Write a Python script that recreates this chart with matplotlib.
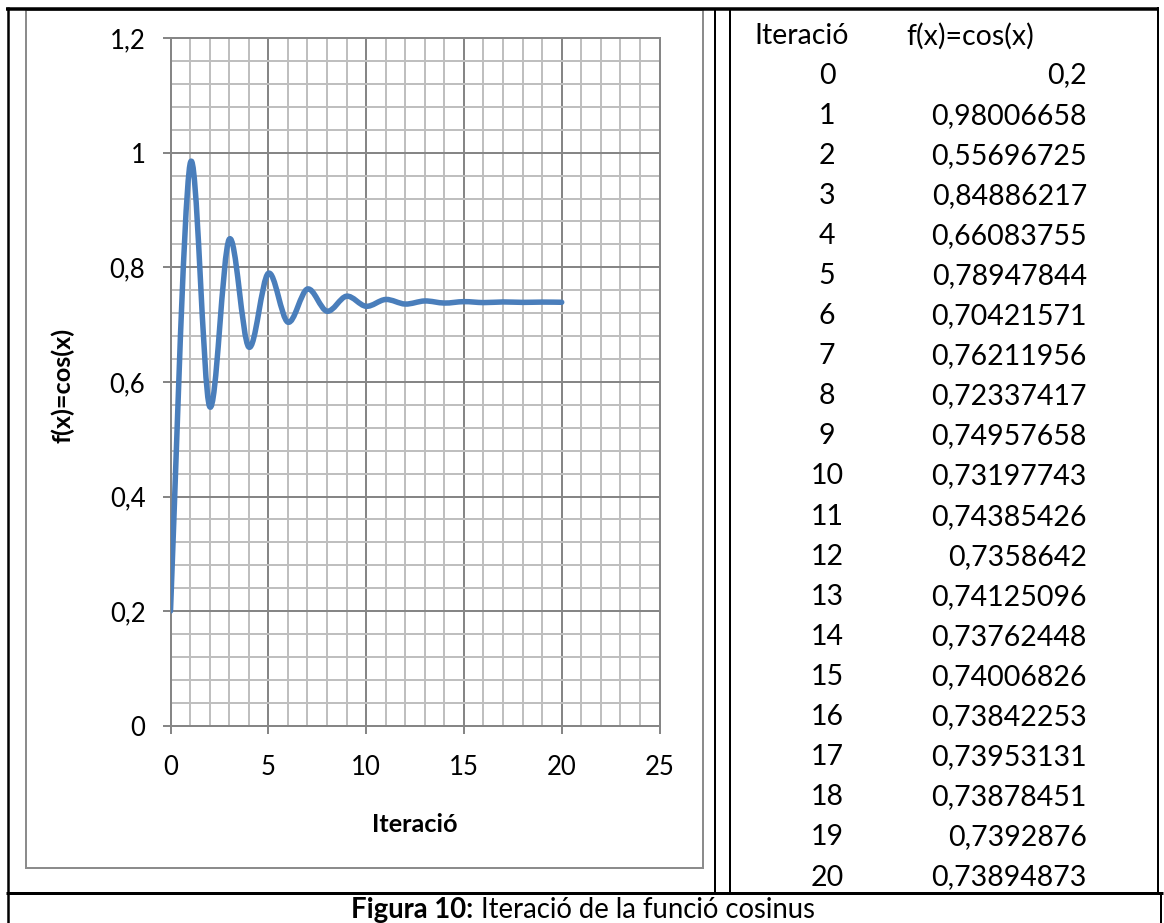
import numpy as np
import matplotlib
matplotlib.use('Agg')
import matplotlib.pyplot as plt
from matplotlib.path import Path
from matplotlib.patches import PathPatch, Rectangle
from matplotlib.ticker import MultipleLocator, FuncFormatter

plt.rcParams['font.family'] = ['Lato', 'DejaVu Sans']

# === DATA: iteration x_{n+1} = cos(x_n), x_0 = 0.2 ===
iteracions = list(range(21))
valors = [0.2, 0.98006658, 0.55696725, 0.84886217, 0.66083755, 0.78947844,
          0.70421571, 0.76211956, 0.72337417, 0.74957658, 0.73197743,
          0.74385426, 0.7358642, 0.74125096, 0.73762448, 0.74006826,
          0.73842253, 0.73953131, 0.73878451, 0.7392876, 0.73894873]
col_headers = ['Iteració', 'f(x)=cos(x)']
x_label = 'Iteració'
y_label = 'f(x)=cos(x)'
caption_bold = 'Figura 10:'
caption_text = ' Iteració de la funció cosinus'

# === FIGURE / PAGE GEOMETRY (pixels) ===
W, H = 1164, 923
DPI = 100
FS_TABLE = 20.5
FS_TICK = 18.5
FS_LABEL = 18.2
FS_CAP = 19.8
BLUE = '#4a7ebb'
MAJ = '#868686'
MIN = '#bfbfbf'


def px(v):
    # pixels -> points
    return v * 72 / DPI


def smooth_path(xs, ys):
    # Catmull-Rom style cubic Bezier through the points (Excel "smoothed line")
    pts = np.column_stack([xs, ys]).astype(float)
    n = len(pts)
    verts = [pts[0]]
    codes = [Path.MOVETO]
    for i in range(n - 1):
        p0 = pts[max(i - 1, 0)]
        p1 = pts[i]
        p2 = pts[i + 1]
        p3 = pts[min(i + 2, n - 1)]
        verts += [p1 + (p2 - p0) / 6, p2 - (p3 - p1) / 6, p2]
        codes += [Path.CURVE4] * 3
    return Path(verts, codes)


def comma(v):
    return str(v).replace('.', ',')


fig = plt.figure(figsize=(W / DPI, H / DPI), dpi=DPI)

# background layer in pixel coordinates: table borders and text
bg = fig.add_axes([0, 0, 1, 1])
bg.set_xlim(0, W)
bg.set_ylim(H, 0)
bg.axis('off')

k = dict(color='black', solid_capstyle='butt')
bg.plot([6, 1159], [8.7, 8.7], lw=px(3.5), **k)
bg.plot([7.5, 7.5], [7, H], lw=px(2.5), **k)
bg.plot([714.5, 714.5], [9, 892], lw=px(2), **k)
bg.plot([729.5, 729.5], [9, 892], lw=px(2), **k)
bg.plot([1158.3, 1158.3], [7, 892], lw=px(2), **k)
bg.plot([1160.5, 1160.5], [892, H], lw=px(2), **k)
bg.plot([6, 1163], [892.5, 892.5], lw=px(3), **k)

# chart area frame
bg.add_patch(Rectangle((25.7, 9.5), 703 - 25.7, 868 - 9.5, fill=False,
                       ec='#8c8c8c', lw=px(2)))

# data table on the right
bg.text(754, 36, col_headers[0], fontsize=FS_TABLE, ha='left', va='center')
bg.text(906, 36, col_headers[1], fontsize=FS_TABLE, ha='left', va='center')
for i, (it, v) in enumerate(zip(iteracions, valors)):
    y = 75.5 + 40.1 * i
    bg.text(827, y, str(it), fontsize=FS_TABLE, ha='center', va='center')
    bg.text(1087, y, comma(v), fontsize=FS_TABLE, ha='right', va='center')

# axis titles
bg.text(63, 385, y_label, fontsize=FS_LABEL, fontweight='bold', rotation=90,
        ha='center', va='center')
bg.text(415, 824, x_label, fontsize=FS_LABEL, fontweight='bold',
        ha='center', va='center')

# caption, bold prefix + normal text centred as one line
t1 = bg.text(0, 910, caption_bold, fontsize=FS_CAP, fontweight='bold',
             ha='left', va='center')
t2 = bg.text(0, 910, caption_text, fontsize=FS_CAP, ha='left', va='center')
r = fig.canvas.get_renderer()
w1 = t1.get_window_extent(r).width
w2 = t2.get_window_extent(r).width
x0 = 583 - (w1 + w2) / 2
t1.set_x(x0)
t2.set_x(x0 + w1)

# === CHART ===
x0p, x1p = 170.5, 659.5
y0p, y1p = 725.7, 38.1
ax = fig.add_axes([x0p / W, 1 - y0p / H, (x1p - x0p) / W, (y0p - y1p) / H])
ax.set_xlim(0, 25)
ax.set_ylim(0, 1.2)
ax.xaxis.set_major_locator(MultipleLocator(5))
ax.xaxis.set_minor_locator(MultipleLocator(1))
ax.yaxis.set_major_locator(MultipleLocator(0.2))
ax.yaxis.set_minor_locator(MultipleLocator(0.04))
ax.yaxis.set_major_formatter(FuncFormatter(lambda v, p: comma('%g' % round(v, 2))))
ax.grid(True, which='minor', color=MIN, lw=px(2), zorder=0)
ax.grid(True, which='major', color=MAJ, lw=px(2), zorder=0)
ax.set_axisbelow(True)
for s in ax.spines.values():
    s.set_color(MAJ)
    s.set_linewidth(px(2))
ax.tick_params(which='major', length=px(8), width=px(2), color=MAJ,
               labelsize=FS_TICK, pad=px(17))
ax.tick_params(axis='x', which='major', pad=px(21))
ax.tick_params(which='minor', length=0)

ax.add_patch(PathPatch(smooth_path(iteracions, valors), fill=False,
                       ec=BLUE, lw=px(5.5), capstyle='round', joinstyle='round',
                       zorder=3))

fig.savefig('out.png', dpi=DPI)
